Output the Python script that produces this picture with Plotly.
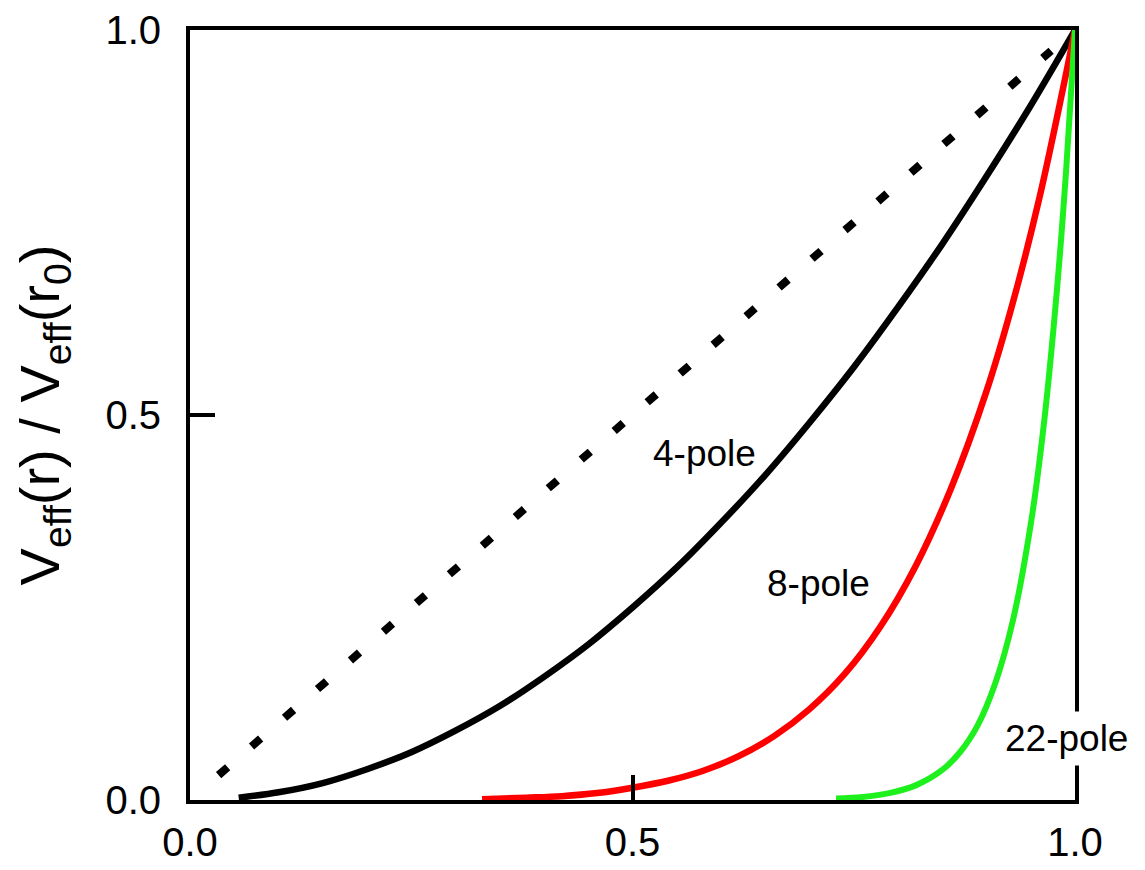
import plotly.graph_objects as go

# ---- data ----
ref_x = [0.0323, 0.973]
ref_y = [0.0323, 0.973]

pole4_x = [0.055, 0.10, 0.15, 0.20, 0.25, 0.30, 0.35, 0.40, 0.45, 0.50,
           0.55, 0.60, 0.65, 0.70, 0.75, 0.80, 0.85, 0.90, 0.95, 1.00]
pole4_y = [0.003, 0.010, 0.022, 0.040, 0.062, 0.090, 0.122, 0.160, 0.202, 0.250,
           0.302, 0.360, 0.422, 0.490, 0.562, 0.640, 0.722, 0.810, 0.902, 1.000]

pole8_x = [0.33, 0.38, 0.42, 0.46, 0.50, 0.54, 0.58, 0.62, 0.66, 0.70,
           0.74, 0.78, 0.82, 0.86, 0.90, 0.93, 0.96, 1.00]
pole8_y = [0.001, 0.003, 0.005, 0.009, 0.016, 0.025, 0.038, 0.057, 0.083, 0.118,
           0.164, 0.225, 0.304, 0.405, 0.531, 0.647, 0.783, 1.000]

pole22_x = [0.73, 0.76, 0.79, 0.82, 0.85, 0.87, 0.89, 0.91, 0.93, 0.95,
            0.965, 0.98, 0.99, 1.00]
pole22_y = [0.002, 0.004, 0.009, 0.019, 0.039, 0.062, 0.097, 0.152, 0.234, 0.358,
            0.490, 0.668, 0.818, 1.000]

tick_vals = [0.0, 0.5, 1.0]
tick_text = ["0.0", "0.5", "1.0"]
mark_vals = [0.5]

labels = ["4-pole", "8-pole", "22-pole"]

FONT = "Arial, Liberation Sans, sans-serif"

fig = go.Figure()
fig.add_trace(go.Scatter(x=ref_x, y=ref_y, mode="lines",
                         line=dict(color="black", width=8, dash="12px,31.7px"),
                         showlegend=False, hoverinfo="skip"))
fig.add_trace(go.Scatter(x=pole4_x, y=pole4_y, mode="lines",
                         line=dict(color="black", width=6.5, shape="spline"),
                         showlegend=False))
fig.add_trace(go.Scatter(x=pole8_x, y=pole8_y, mode="lines",
                         line=dict(color="#ff0000", width=6.5, shape="spline"),
                         showlegend=False))
fig.add_trace(go.Scatter(x=pole22_x, y=pole22_y, mode="lines",
                         line=dict(color="#1ef01e", width=6, shape="spline"),
                         showlegend=False))

fig.add_annotation(x=0.5816, y=0.450, text=labels[0], showarrow=False,
                   font=dict(family=FONT, size=37, color="black"))
fig.add_annotation(x=0.7096, y=0.2815, text=labels[1], showarrow=False,
                   font=dict(family=FONT, size=37, color="black"))
fig.add_annotation(x=0.9906, y=0.0795, text=labels[2], showarrow=False,
                   font=dict(family=FONT, size=37, color="black"),
                   bgcolor="white", borderpad=6)

axis_common = dict(
    range=[0, 1], tickvals=tick_vals, ticktext=tick_text,
    ticks="", showline=True, linewidth=4, linecolor="black", mirror=True,
    showgrid=False, zeroline=False, layer="above traces", automargin=False,
    tickfont=dict(family=FONT, size=40, color="black"),
    minor=dict(tickvals=mark_vals, ticks="inside", ticklen=25, tickwidth=4,
               tickcolor="black", showgrid=False),
)

# the page body adds an 8px margin, so the figure is offset by 8px
fig.update_layout(
    width=1137, height=862,
    margin=dict(l=182, r=70, t=22, b=70, autoexpand=False),
    plot_bgcolor="white", paper_bgcolor="white",
    font=dict(family=FONT, color="black"),
    showlegend=False,
    xaxis=dict(**axis_common, ticklabelstandoff=4),
    yaxis=dict(**axis_common, ticklabelstandoff=17,
               title=dict(text="V<sub>eff</sub>(r) / V<sub>eff</sub>(r<sub>0</sub>)",
                          font=dict(family=FONT, size=56, color="black"),
                          standoff=40)),
)

fig.write_html("out.html")
